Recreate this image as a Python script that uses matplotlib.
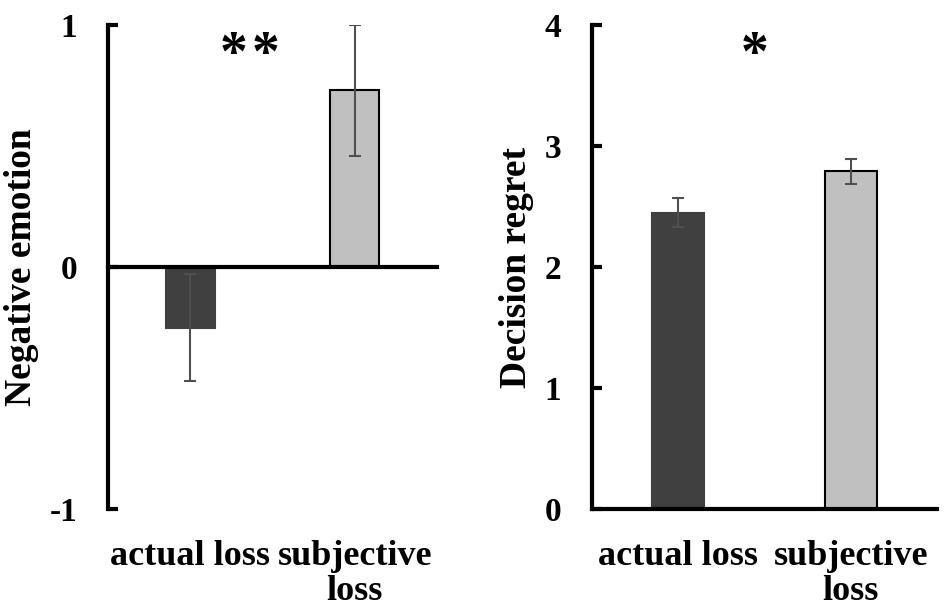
import numpy as np
import matplotlib
matplotlib.use("Agg")
import matplotlib.pyplot as plt

categories = ["actual loss", "subjective\nloss"]
emotion_mean = [-0.25, 0.73]
emotion_err = [0.22, 0.27]
regret_mean = [2.45, 2.79]
regret_err = [0.12, 0.10]
bar_colors = ["#404040", "#c0c0c0"]
edge_colors = ["#404040", "#000000"]

plt.rcParams['font.family'] = ['Liberation Serif', 'DejaVu Serif']
plt.rcParams['font.weight'] = 'bold'
tick_fs = 24
xlab_fs = 26
ylab_fs = 27
star_fs = 40

fig = plt.figure(figsize=(9.5, 6.08), dpi=100)
ax1 = fig.add_axes([108/950, 1-509/608, (437-108)/950, (509-25)/608])
ax2 = fig.add_axes([592/950, 1-509/608, (937-592)/950, (509-25)/608])

x = np.arange(len(categories))


def style(ax):
    for s in ["top", "right", "bottom"]:
        ax.spines[s].set_visible(False)
    ax.spines["left"].set_linewidth(3)
    ax.tick_params(axis="y", direction="in", length=7, width=3, labelsize=tick_fs, pad=22)
    ax.tick_params(axis="x", length=0, labelsize=xlab_fs, pad=22)
    ax.set_xlim(-0.5, 1.5)
    ax.set_xticks(x)
    ax.set_xticklabels(categories, fontweight="bold", linespacing=1.1)
    for lab in ax.get_yticklabels():
        lab.set_fontweight("bold")


# left panel
ax1.bar(x, emotion_mean, width=0.3, color=bar_colors, edgecolor=edge_colors, linewidth=1.5, zorder=2)
ax1.errorbar(x, emotion_mean, yerr=emotion_err, fmt="none", ecolor="#505050",
             elinewidth=1.5, capsize=4, capthick=1.5, zorder=3)
ax1.axhline(0, color="black", linewidth=3, zorder=4, clip_on=False)
ax1.set_ylim(-1, 1)
ax1.set_yticks([-1, 0, 1])
ax1.set_yticklabels(["-1", "0", "1"])
style(ax1)
ax1.set_ylabel("Negative emotion", fontsize=ylab_fs, fontweight="bold", labelpad=8)
for sx in [0.383, 0.48]:
    ax1.text(sx, 0.99, "*", transform=ax1.transAxes, ha="center", va="top",
             fontsize=star_fs, fontweight="bold")

# right panel
ax2.bar(x, regret_mean, width=0.3, color=bar_colors, edgecolor=edge_colors, linewidth=1.5, zorder=2)
ax2.errorbar(x, regret_mean, yerr=regret_err, fmt="none", ecolor="#505050",
             elinewidth=1.5, capsize=4, capthick=1.5, zorder=3)
ax2.axhline(0, color="black", linewidth=3, zorder=4, clip_on=False)
ax2.set_ylim(0, 4)
ax2.set_yticks([0, 1, 2, 3, 4])
style(ax2)
ax2.set_ylabel("Decision regret", fontsize=ylab_fs, fontweight="bold", labelpad=8)
ax2.text(0.47, 0.99, "*", transform=ax2.transAxes, ha="center", va="top",
         fontsize=star_fs, fontweight="bold")

fig.savefig("out.png", dpi=100)
